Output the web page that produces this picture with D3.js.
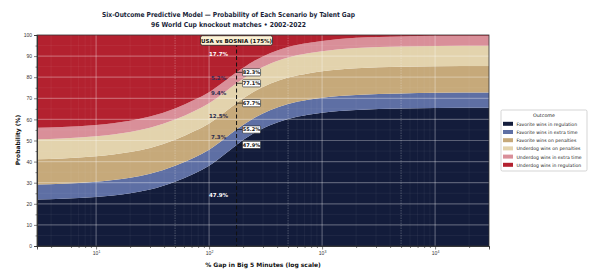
<!DOCTYPE html>
<html>
<head>
<meta charset="utf-8">
<script src="https://cdn.jsdelivr.net/npm/d3@7"></script>
<style>
  body { margin: 0; background: #fff; }
  svg { display: block; font-family: "DejaVu Sans", sans-serif; }
</style>
</head>
<body>
<svg id="chart" width="600" height="274"></svg>
<script>
// gap values (% gap in Big 5 minutes) where the curves were read
const gaps    = [3, 5, 10, 20, 30, 50, 75, 100, 140, 175, 250, 350, 500, 750, 1000, 2000, 5000, 10000, 30000];
// probability of each outcome (%)
const favReg  = [22.0, 22.4, 23.2, 25.0, 26.8, 30.5, 34.5, 38.0, 43.8, 47.9, 53.5, 57.3, 60.2, 62.2, 63.2, 64.5, 65.2, 65.4, 65.5];
const favET   = [7.1, 7.1, 7.2, 7.3, 7.4, 7.5, 7.6, 7.6, 7.5, 7.3, 7.2, 7.2, 7.1, 7.1, 7.1, 7.1, 7.1, 7.2, 7.2];
const favPen  = [12.0, 12.0, 12.1, 12.2, 12.3, 12.4, 12.5, 12.5, 12.5, 12.5, 12.5, 12.5, 12.5, 12.5, 12.5, 12.6, 12.6, 12.6, 12.6];
const dogPen  = [9.5, 9.5, 9.5, 9.5, 9.5, 9.5, 9.5, 9.5, 9.4, 9.4, 9.4, 9.5, 9.5, 9.5, 9.5, 9.6, 9.6, 9.6, 9.6];
const dogET   = [5.4, 5.4, 5.4, 5.4, 5.4, 5.3, 5.3, 5.3, 5.2, 5.2, 5.1, 5.0, 5.0, 4.9, 4.9, 4.9, 4.8, 4.8, 4.8];
const dogReg  = [44.0, 43.6, 42.6, 40.6, 38.6, 34.8, 30.6, 27.1, 21.6, 17.7, 12.3, 8.5, 5.7, 3.8, 2.8, 1.3, 0.7, 0.4, 0.3];

const outcomes = ["Favorite wins in regulation", "Favorite wins in extra time", "Favorite wins on penalties",
                  "Underdog wins on penalties", "Underdog wins in extra time", "Underdog wins in regulation"];
const colors = ["#131c3b", "#5e6fa4", "#c6a97a", "#e3d3ad", "#d98f99", "#b3212f"];

const markerGap = 175;
const markerName = "USA vs BOSNIA (175%)";
const yTicks = [0, 10, 20, 30, 40, 50, 60, 70, 80, 90, 100];
const xTicks = [10, 100, 1000, 10000];

const svg = d3.select("#chart");
const L = 37, R = 489, T = 35, B = 246;

const x = d3.scaleLog().domain([3, 30000]).range([L, R]);
const y = d3.scaleLinear().domain([0, 100]).range([B, T]);

const series = [favReg, favET, favPen, dogPen, dogET, dogReg];
const table = gaps.map((g, i) => {
  let row = {gap: g};
  outcomes.forEach((o, k) => row[o] = series[k][i]);
  return row;
});
const stacked = d3.stack().keys(outcomes)(table);

svg.append("defs").append("clipPath").attr("id", "clip")
  .append("rect").attr("x", L).attr("y", T).attr("width", R - L).attr("height", B - T);

const plot = svg.append("g").attr("clip-path", "url(#clip)");

let area = d3.area()
  .x(d => x(d.data.gap))
  .y0(d => y(d[0]))
  .y1(d => y(d[1]))
  .curve(d3.curveMonotoneX);

plot.selectAll("path.band")
  .data(stacked).enter()
    .append("path")
      .attr("class", "band")
      .attr("d", area)
      .attr("fill", (d, i) => colors[i]);

// grid on top of the bands
let minorX = [];
[1, 10, 100, 1000, 10000].forEach(p => {
  for (let m = 2; m < 10; m++) { if (m != 5) minorX.push(m * p); }
});
minorX = minorX.filter(v => v > 3 && v < 30000);

plot.selectAll("line.mx").data(minorX).enter().append("line")
  .attr("x1", d => x(d)).attr("x2", d => x(d)).attr("y1", T).attr("y2", B)
  .attr("stroke", "#fff").attr("stroke-opacity", 0.1).attr("stroke-width", 0.5);

plot.selectAll("line.my").data(d3.range(5, 100, 10)).enter().append("line")
  .attr("x1", L).attr("x2", R).attr("y1", d => y(d)).attr("y2", d => y(d))
  .attr("stroke", "#fff").attr("stroke-opacity", 0.1).attr("stroke-width", 0.5);

plot.selectAll("line.fx").data([50, 500, 5000]).enter().append("line")
  .attr("x1", d => x(d)).attr("x2", d => x(d)).attr("y1", T).attr("y2", B)
  .attr("stroke", "#fff").attr("stroke-opacity", 0.35).attr("stroke-width", 0.7)
  .attr("stroke-dasharray", "1.5,1");

plot.selectAll("line.gx").data(xTicks).enter().append("line")
  .attr("x1", d => x(d)).attr("x2", d => x(d)).attr("y1", T).attr("y2", B)
  .attr("stroke", "#fff").attr("stroke-opacity", 0.45).attr("stroke-width", 0.8);

plot.selectAll("line.gy").data(yTicks.slice(1, -1)).enter().append("line")
  .attr("x1", L).attr("x2", R).attr("y1", d => y(d)).attr("y2", d => y(d))
  .attr("stroke", "#fff").attr("stroke-opacity", 0.3).attr("stroke-width", 1.2);

// frame
svg.append("rect").attr("x", L).attr("y", T).attr("width", R - L).attr("height", B - T)
  .attr("fill", "none").attr("stroke", "#333").attr("stroke-width", 0.8);

// axes
let yAxis = svg.append("g").attr("transform", "translate(" + L + ",0)")
  .call(d3.axisLeft(y).tickValues(yTicks).tickSize(3).tickPadding(2));
svg.append("g").attr("transform", "translate(" + L + ",0)")
  .call(d3.axisLeft(y).tickValues(d3.range(5, 100, 10)).tickSize(1.5).tickFormat(""));

let xAxis = svg.append("g").attr("transform", "translate(0," + B + ")")
  .call(d3.axisBottom(x).tickValues(xTicks).tickSize(3.5).tickPadding(3).tickFormat(""));
svg.append("g").attr("transform", "translate(0," + B + ")")
  .call(d3.axisBottom(x).tickValues(minorX.concat([50, 500, 5000])).tickSize(2).tickFormat(""));

svg.selectAll(".domain").attr("stroke", "#333").attr("stroke-width", 0.8);
svg.selectAll(".tick line").attr("stroke", "#333").attr("stroke-width", 0.6);
yAxis.selectAll("text").attr("font-size", 5).attr("fill", "#333");

let xl = xAxis.selectAll(".tick").append("text")
  .attr("y", 9).attr("text-anchor", "middle").attr("font-size", 5).attr("fill", "#333");
xl.append("tspan").text("10");
xl.append("tspan").attr("dy", -2).attr("font-size", 3.5).text(d => Math.round(Math.log10(d)));

// marker line
let mx = x(markerGap);
svg.append("line").attr("x1", mx).attr("x2", mx).attr("y1", T + 8).attr("y2", B)
  .attr("stroke", "#111").attr("stroke-width", 1).attr("stroke-dasharray", "4,2.5");

// segment labels to the left of the marker
const mi = gaps.indexOf(markerGap);
const labelColors = ["#fff", "#2b2c4d", "#2b2c4d", "#2b2c4d", "#3a2b58", "#fff"];
svg.selectAll("text.seg").data(stacked).enter().append("text")
  .attr("x", mx - 18)
  .attr("y", d => y((d[mi][0] + d[mi][1]) / 2) + 2)
  .attr("text-anchor", "middle").attr("font-size", 5.5).attr("font-weight", "bold")
  .attr("fill", (d, i) => labelColors[i])
  .text(d => (d[mi][1] - d[mi][0]).toFixed(1) + "%");

// cumulative boundary labels to the right of the marker
const bounds = stacked.slice(0, 5).map(s => s[mi][1]);
let bl = svg.selectAll("g.bound").data(bounds).enter().append("g")
  .attr("transform", d => "translate(" + mx + "," + y(d) + ")");
bl.append("line").attr("x1", 0).attr("x2", 6).attr("stroke", "#111").attr("stroke-width", 0.7);
bl.append("rect").attr("x", 6).attr("y", -3.6).attr("width", 18).attr("height", 7.2)
  .attr("rx", 0.8).attr("fill", "#fff").attr("stroke", "#222").attr("stroke-width", 0.6);
bl.append("text").attr("x", 15).attr("y", 1.8).attr("text-anchor", "middle")
  .attr("font-size", 5).attr("font-weight", "bold").attr("fill", "#111")
  .text(d => d.toFixed(1) + "%");

// marker title box
let mb = svg.append("g").attr("transform", "translate(" + mx + "," + (T + 5.5) + ")");
mb.append("rect").attr("x", -36).attr("y", -4.8).attr("width", 72).attr("height", 9.6)
  .attr("rx", 2).attr("fill", "#fdf3d6").attr("stroke", "#222").attr("stroke-width", 0.8);
mb.append("text").attr("y", 2).attr("text-anchor", "middle")
  .attr("font-size", 5.5).attr("font-weight", "bold").attr("fill", "#111").text(markerName);

// titles
svg.append("text").attr("x", 228.5).attr("y", 17).attr("text-anchor", "middle")
  .attr("font-size", 6.8).attr("font-weight", "bold").attr("fill", "#1a1f3a")
  .attr("textLength", 253).attr("lengthAdjust", "spacingAndGlyphs")
  .text("Six-Outcome Predictive Model \u2014 Probability of Each Scenario by Talent Gap");
svg.append("text").attr("x", 228.5).attr("y", 26.5).attr("text-anchor", "middle")
  .attr("font-size", 6.8).attr("font-weight", "bold").attr("fill", "#1a1f3a")
  .attr("textLength", 155).attr("lengthAdjust", "spacingAndGlyphs")
  .text("96 World Cup knockout matches  \u2022  2002-2022");

svg.append("text").text("% Gap in Big 5 Minutes (log scale)")
  .attr("x", 263).attr("y", 266.5).attr("text-anchor", "middle")
  .attr("font-size", 6).attr("font-weight", "bold").attr("fill", "#111");

svg.append("text").text("Probability (%)")
  .attr("transform", "rotate(-90)")
  .attr("x", -140).attr("y", 20).attr("text-anchor", "middle")
  .attr("font-size", 6).attr("font-weight", "bold").attr("fill", "#111");

// legend
let lg = svg.append("g").attr("transform", "translate(501,110)");
lg.append("rect").attr("width", 86).attr("height", 61).attr("rx", 1.5)
  .attr("fill", "#fff").attr("stroke", "#bbb").attr("stroke-width", 0.6);
lg.append("text").attr("x", 43).attr("y", 6.5).attr("text-anchor", "middle")
  .attr("font-size", 4.8).attr("fill", "#222").text("Outcome");
let li = lg.selectAll("g.item").data(outcomes).enter().append("g")
  .attr("transform", (d, i) => "translate(2," + (14 + i * 8.2) + ")");
li.append("rect").attr("x", 0).attr("y", -2.2).attr("width", 10).attr("height", 4)
  .attr("fill", (d, i) => colors[i]);
li.append("text").attr("x", 13.5).attr("y", 1.7).attr("font-size", 4.6).attr("fill", "#222").text(d => d);
</script>
</body>
</html>
